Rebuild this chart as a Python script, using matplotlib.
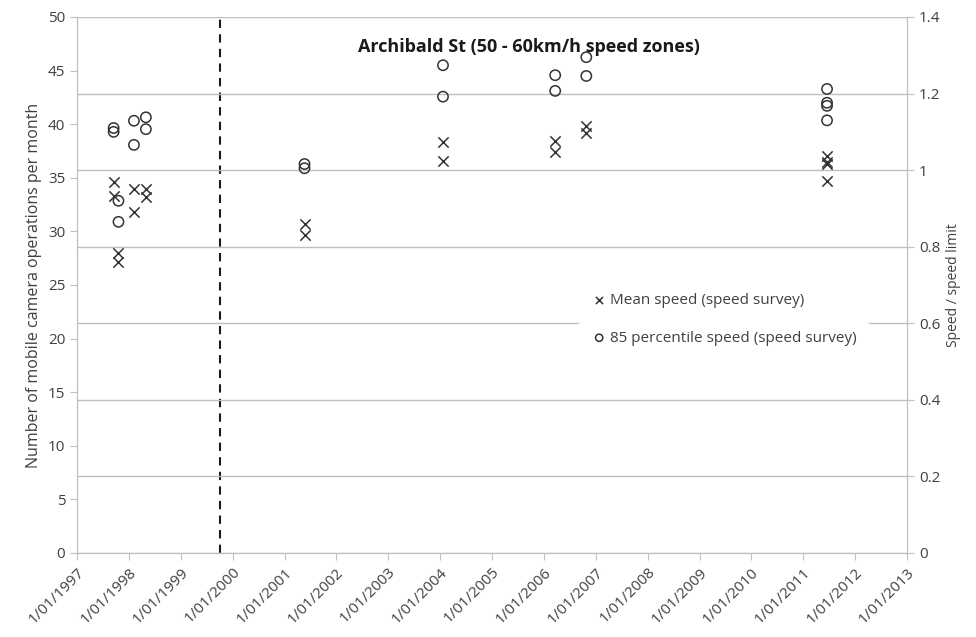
import pandas as pd
import matplotlib
matplotlib.use('Agg')
import matplotlib.pyplot as plt

plt.rcParams['font.family'] = ['Open Sans', 'DejaVu Sans']

# survey dates (one entry per point)
survey_dates = ['1997-09-16', '1997-09-16', '1997-10-20', '1997-10-20',
                '1998-02-06', '1998-02-06', '1998-05-01', '1998-05-01',
                '2001-05-22', '2001-05-22', '2004-01-22', '2004-01-22',
                '2006-03-22', '2006-03-22', '2006-10-27', '2006-10-27',
                '2011-06-18', '2011-06-18', '2011-06-18', '2011-06-18']

mean_speed = [0.970, 0.933, 0.783, 0.759,
              0.950, 0.890, 0.952, 0.931,
              0.860, 0.830, 1.074, 1.025,
              1.077, 1.048, 1.115, 1.098,
              1.036, 1.020, 1.015, 0.972]

pct85_speed = [1.110, 1.100, 0.920, 0.865,
               1.129, 1.066, 1.138, 1.107,
               1.016, 1.005, 1.274, 1.192,
               1.248, 1.207, 1.295, 1.246,
               1.212, 1.176, 1.168, 1.130]

camera_start = '1999-10-05'
year_ticks = list(range(1997, 2014))
title = 'Archibald St (50 - 60km/h speed zones)'

grid_col = '#bfbfbf'
txt_col = '#404040'

dates = pd.to_datetime(survey_dates)

fig = plt.figure(figsize=(9.76, 6.37), dpi=100)
ax = fig.add_axes([77 / 976, 1 - 553 / 637, 830 / 976, 536 / 637])
ax2 = ax.twinx()

ax.set_xlim(pd.Timestamp('1997-01-01'), pd.Timestamp('2013-01-01'))
ax.set_ylim(0, 50)
ax.set_yticks(range(0, 51, 5))
ax2.set_ylim(0, 1.4)
ax2.set_yticks([0, 0.2, 0.4, 0.6, 0.8, 1.0, 1.2, 1.4])
ax2.set_yticklabels(['0', '0.2', '0.4', '0.6', '0.8', '1', '1.2', '1.4'])

tick_dates = [pd.Timestamp(f'{y}-01-01') for y in year_ticks]
ax.set_xticks(tick_dates)
ax.set_xticklabels([f'1/01/{y}' for y in year_ticks], rotation=45,
                   ha='right', rotation_mode='anchor', fontsize=10.5, color=txt_col)

for a in (ax, ax2):
    for s in a.spines.values():
        s.set_color(grid_col)
    a.spines['top'].set_visible(False)
    a.tick_params(colors=grid_col, labelcolor=txt_col, labelsize=11, length=5)

ax2.yaxis.grid(True, color=grid_col, lw=1)
ax2.set_axisbelow(True)

ax.axvline(pd.Timestamp(camera_start), color='#1a1a1a', ls=(0, (4, 3)), lw=1.5)

ax2.scatter(dates, mean_speed, marker='x', s=55, c='#333333', lw=1.1,
            label='Mean speed (speed survey)', zorder=3)
ax2.scatter(dates, pct85_speed, marker='o', s=55, facecolors='none',
            edgecolors='#333333', lw=1.1,
            label='85 percentile speed (speed survey)', zorder=3)

ax.set_ylabel('Number of mobile camera operations per month', fontsize=11.5, color=txt_col)
ax2.set_ylabel('Speed / speed limit', fontsize=10, color=txt_col)

ax.text(0.5446, 0.944, title, transform=ax.transAxes, ha='center', va='center',
        fontsize=13, fontweight='bold', color='#1a1a1a')

leg = ax2.legend(loc='upper left', bbox_to_anchor=(0.596, 0.5224), frameon=True,
                 facecolor='white', edgecolor='none', framealpha=1,
                 fontsize=11, labelspacing=1.5, handletextpad=0.2,
                 handlelength=1.0, markerscale=0.7, borderpad=0.8)
for t in leg.get_texts():
    t.set_color(txt_col)

fig.savefig('out.png', dpi=100)
